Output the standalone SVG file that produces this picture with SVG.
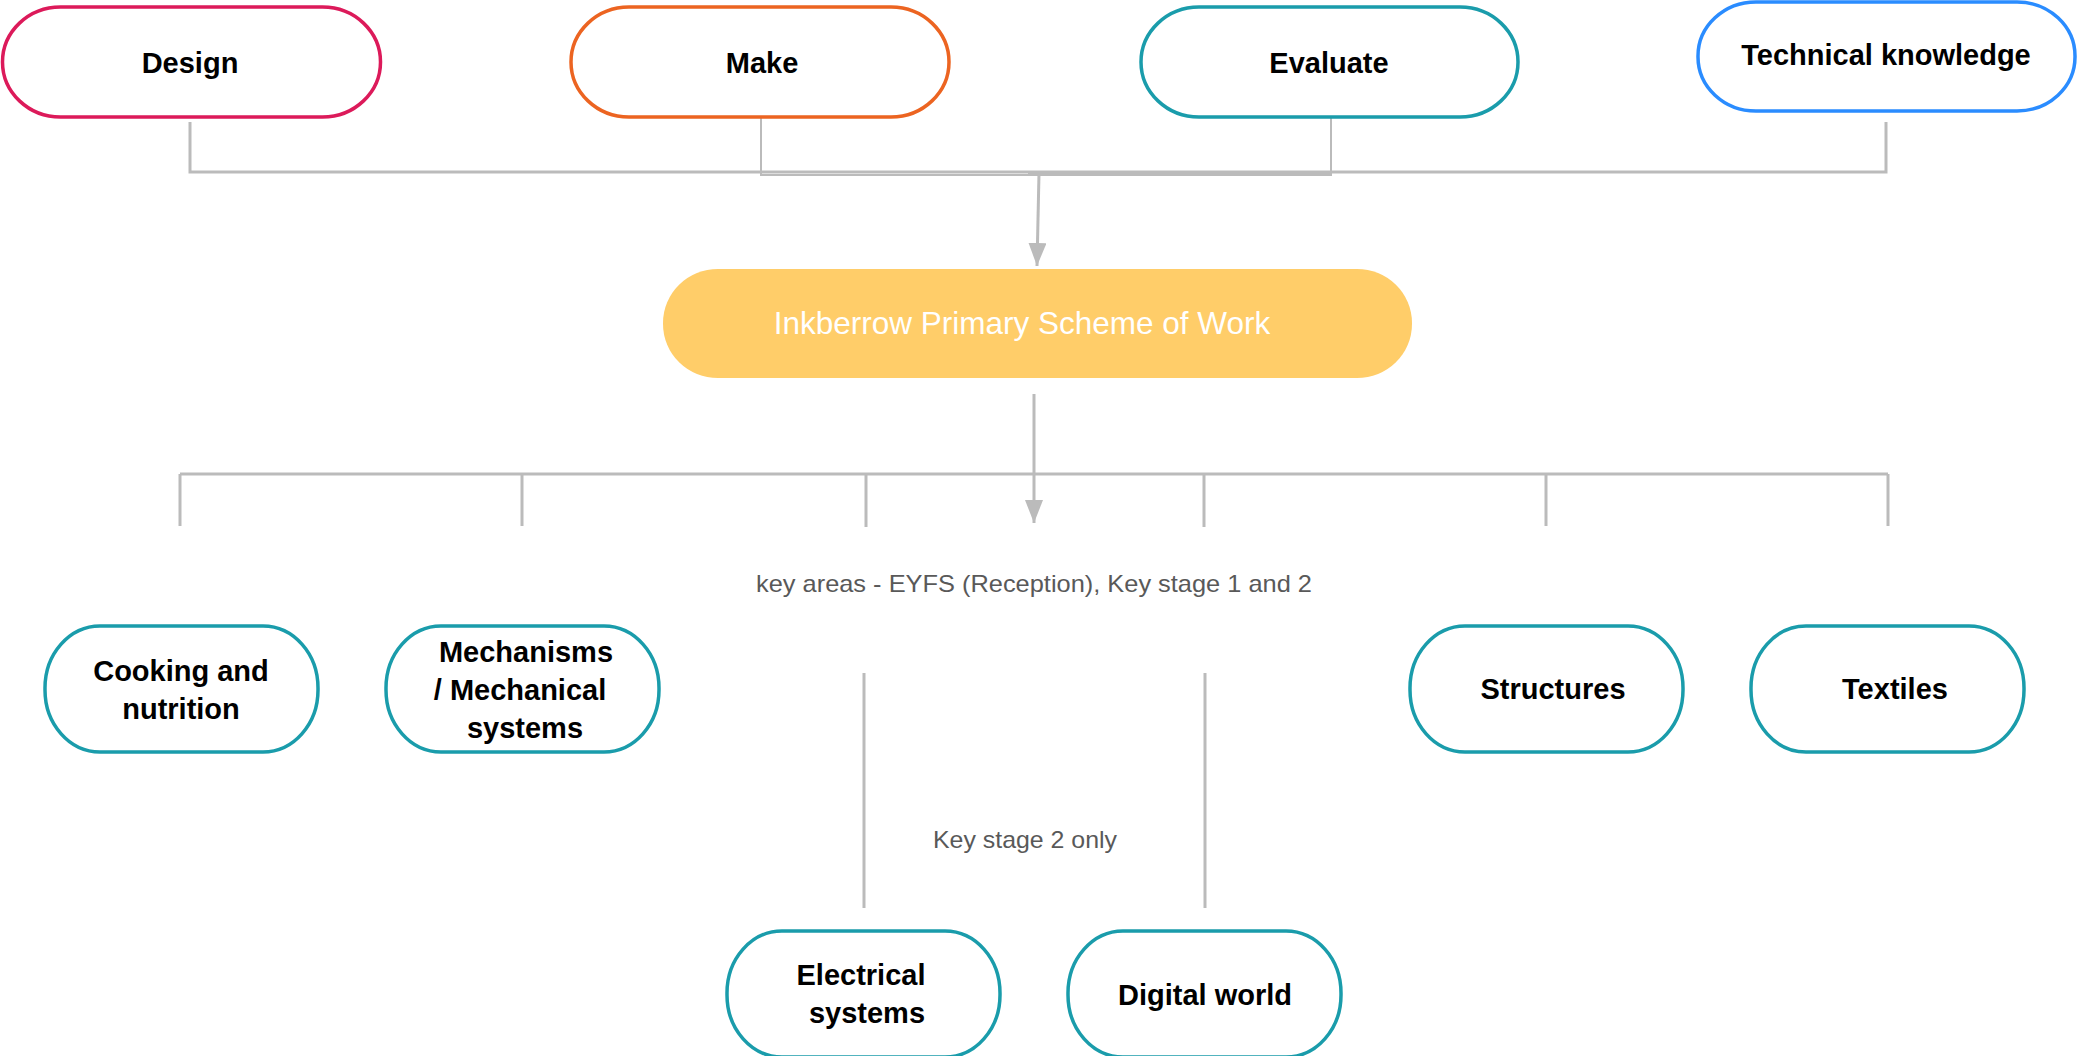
<svg xmlns="http://www.w3.org/2000/svg" width="2079" height="1056" viewBox="0 0 2079 1056">
<defs>
<marker id="arr" markerUnits="userSpaceOnUse" viewBox="0 0 23 18" markerWidth="23" markerHeight="18" refX="23" refY="9" orient="auto">
<path d="M0,0 L23,9 L0,18 Z" fill="#BBBBBB"/>
</marker>
</defs>
<style>
.box{fill:#FFFFFF;stroke-width:3.5}
.teal{stroke:#1A9CAB}
.lbl{font-family:"Liberation Sans",Arial,sans-serif;font-weight:bold;font-size:29px;fill:#000000;text-anchor:middle}
.note{font-family:"Liberation Sans",Arial,sans-serif;font-size:24px;fill:#595959;text-anchor:middle}
.ln{fill:none;stroke:#BBBBBB;stroke-width:3}
.thin{fill:none;stroke:#BBBBBB;stroke-width:2}
</style>
<rect width="2079" height="1056" fill="#FFFFFF"/>
<g id="connectors">
<polyline class="ln" points="190,122 190,172 1886,172 1886,122"/>
<polyline class="thin" points="761,117 761,175 1331,175 1331,117"/>
<line class="ln" x1="1028" y1="174" x2="1331" y2="174"/>
<line class="ln" x1="1039" y1="173" x2="1037" y2="266" marker-end="url(#arr)"/>
<line class="ln" x1="1034" y1="394" x2="1034" y2="523" marker-end="url(#arr)"/>
<line class="ln" x1="180" y1="474" x2="1888" y2="474"/>
<line class="ln" x1="180" y1="474" x2="180" y2="526"/>
<line class="ln" x1="522" y1="474" x2="522" y2="526"/>
<line class="ln" x1="866" y1="474" x2="866" y2="527"/>
<line class="ln" x1="1204" y1="474" x2="1204" y2="527"/>
<line class="ln" x1="1546" y1="474" x2="1546" y2="526"/>
<line class="ln" x1="1888" y1="474" x2="1888" y2="526"/>
<line class="ln" x1="864" y1="673" x2="864" y2="908"/>
<line class="ln" x1="1205" y1="673" x2="1205" y2="908"/>
<text class="note" x="1034" y="592" textLength="556" lengthAdjust="spacingAndGlyphs">key areas - EYFS (Reception),  Key stage 1 and 2</text>
<text class="note" x="1025" y="848" textLength="184" lengthAdjust="spacingAndGlyphs">Key stage 2 only</text>
</g>
<g id="design">
<rect class="box" x="2.5" y="7" width="378" height="110" rx="58" ry="55" stroke="#DC1A5A"/>
<text class="lbl" x="190" y="73">Design</text>
</g>
<g id="make">
<rect class="box" x="571" y="7" width="378" height="110" rx="58" ry="55" stroke="#EC6421"/>
<text class="lbl" x="762" y="73">Make</text>
</g>
<g id="evaluate">
<rect class="box teal" x="1141" y="7" width="377" height="110" rx="58" ry="55"/>
<text class="lbl" x="1329" y="73">Evaluate</text>
</g>
<g id="technical">
<rect class="box" x="1698" y="2" width="377" height="109" rx="58" ry="54" stroke="#2A8CFF"/>
<text class="lbl" x="1886" y="65">Technical knowledge</text>
</g>
<g id="scheme">
<rect x="663" y="269" width="749" height="109" rx="55" ry="54" fill="#FFCD69"/>
<text x="1022" y="334" font-family="Liberation Sans, Arial, sans-serif" font-size="31.5" fill="#FFFFFF" text-anchor="middle">Inkberrow Primary Scheme of Work</text>
</g>
<g id="cooking">
<rect class="box teal" x="45" y="626" width="273" height="126" rx="55" ry="62"/>
<text class="lbl" x="181" y="681">Cooking and</text>
<text class="lbl" x="181" y="719">nutrition</text>
</g>
<g id="mechanisms">
<rect class="box teal" x="386" y="626" width="273" height="126" rx="55" ry="62"/>
<text class="lbl" x="526" y="662">Mechanisms</text>
<text class="lbl" x="520" y="700">/ Mechanical</text>
<text class="lbl" x="525" y="738">systems</text>
</g>
<g id="structures">
<rect class="box teal" x="1410" y="626" width="273" height="126" rx="55" ry="62"/>
<text class="lbl" x="1553" y="699">Structures</text>
</g>
<g id="textiles">
<rect class="box teal" x="1751" y="626" width="273" height="126" rx="55" ry="62"/>
<text class="lbl" x="1895" y="699">Textiles</text>
</g>
<g id="electrical">
<rect class="box teal" x="727" y="931" width="273" height="126" rx="55" ry="62"/>
<text class="lbl" x="861" y="985">Electrical</text>
<text class="lbl" x="867" y="1023">systems</text>
</g>
<g id="digital">
<rect class="box teal" x="1068" y="931" width="273" height="126" rx="55" ry="62"/>
<text class="lbl" x="1205" y="1005">Digital world</text>
</g>
</svg>
